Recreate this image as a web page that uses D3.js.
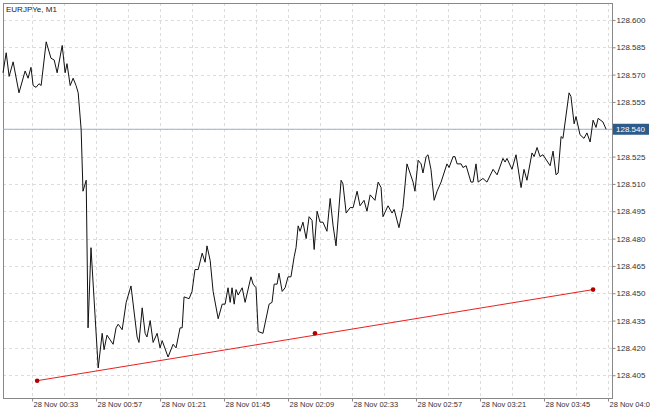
<!DOCTYPE html>
<html><head><meta charset="utf-8">
<script src="https://cdn.jsdelivr.net/npm/d3@7"></script>
<style>body{margin:0;background:#fff}svg{display:block}text{font-family:"Liberation Sans",Arial,sans-serif}</style>
</head><body><svg id="c" width="650" height="410"></svg>
<script>
// minutes after 00:00, 28 Nov
const times = [22.1,23.3,24.4,25.9,28.1,30.4,31.5,32.6,33.4,34.5,35.6,36.4,38.3,40.1,41.3,42.4,44.3,45.4,46.1,47.3,48.4,49.5,50.3,51.4,52.1,53.3,54,55.1,57.8,59.3,60,61.1,63.4,64.5,65.3,66.8,68.3,70.1,72.4,73.1,74.3,75.4,76.1,77.3,78.4,79.9,81,81.8,84,85.9,87,88.5,89.3,90,91.9,93,94.1,95.3,96.8,97.9,98.6,99.8,100.9,102.8,104.3,105.4,106.5,107.3,108,108.8,109.5,110.3,111.8,112.9,115.1,115.9,117,117.8,119.6,121.9,123,123.8,124.9,125.6,126.8,127.9,129,130.1,131.3,132,132.8,133.5,134.6,135.8,136.9,138,138.8,139.9,141,142.1,143.6,144.8,145.9,147,148.9,149.6,150.8,152.3,153.4,154.9,156,157.5,158.6,159.8,161.6,162.8,163.9,164.6,166.5,168,168.8,170.6,172.1,173.6,175.9,176.6,177.8,178.9,179.6,180.8,181.5,182.6,183.8,184.9,186.4,188.6,189.4,190.9,191.6,192.4,193.9,194.6,195.8,197.6,198.4,199.5,200.3,202.1,203.6,205.9,207.4,209.6,210.4,211.1,213,214.5,216.4,217.5,218.6,220.5,221.3,222.4,223.5,224.6,227.3,228.4,229.5,230.3,231.4,232.1,234.4,235.1,236.3,237,238.5,240,241.1,242.3,243.4,244.5,245.3,247.1,248.3];
const prices = [128.571,128.582,128.569,128.577,128.560,128.572,128.568,128.574,128.564,128.563,128.565,128.564,128.588,128.579,128.578,128.571,128.586,128.571,128.576,128.564,128.568,128.564,128.560,128.540,128.506,128.512,128.431,128.475,128.409,128.428,128.419,128.427,128.422,128.431,128.433,128.430,128.445,128.454,128.426,128.423,128.442,128.428,128.426,128.435,128.423,128.428,128.420,128.424,128.415,128.422,128.420,128.431,128.431,128.448,128.447,128.451,128.463,128.463,128.472,128.467,128.476,128.468,128.451,128.436,128.444,128.444,128.453,128.445,128.453,128.444,128.452,128.449,128.453,128.445,128.459,128.455,128.453,128.429,128.428,128.444,128.445,128.455,128.455,128.461,128.451,128.453,128.459,128.459,128.470,128.475,128.487,128.484,128.489,128.480,128.492,128.490,128.474,128.495,128.489,128.489,128.484,128.502,128.487,128.476,128.512,128.510,128.494,128.497,128.497,128.506,128.498,128.501,128.495,128.504,128.501,128.511,128.508,128.492,128.498,128.494,128.496,128.486,128.497,128.521,128.511,128.506,128.523,128.521,128.516,128.525,128.526,128.518,128.501,128.506,128.511,128.521,128.519,128.525,128.525,128.521,128.521,128.519,128.520,128.511,128.511,128.521,128.511,128.513,128.511,128.518,128.515,128.524,128.522,128.524,128.518,128.526,128.508,128.518,128.512,128.527,128.525,128.530,128.525,128.526,128.520,128.528,128.515,128.516,128.536,128.535,128.560,128.558,128.543,128.547,128.537,128.535,128.538,128.533,128.545,128.541,128.546,128.544,128.540];
const trendTimes = [34.9,139.1,243.4];
const trendPrices = [128.402,128.428,128.452];
const yTicks = [128.405,128.420,128.435,128.450,128.465,128.480,128.495,128.510,128.525,128.540,128.555,128.570,128.585,128.600];
const xLabelTimes = [33,57,81,105,129,153,177,201,225,249];
const lastPrice = 128.540;
const title = "EURJPYe, M1";

const svg = d3.select("#c");
const L=3,R=612,T=3,B=398;
const x = d3.scaleLinear().domain([22.1,250.5]).range([L,R]);
const y = d3.scaleLinear().domain([128.3925,128.6093]).range([B,T]);
const fmtT = m => "28 Nov " + String(Math.floor(m/60)).padStart(2,"0")+":"+String(Math.round(m%60)).padStart(2,"0");

const g = svg.append("g");
const vGrid = d3.range(33, 250, 12);
g.selectAll(".vg").data(vGrid).join("line").attr("x1",d=>Math.round(x(d))+0.5).attr("x2",d=>Math.round(x(d))+0.5).attr("y1",T).attr("y2",B)
 .attr("stroke","#dcdcdc").attr("stroke-dasharray","3,3").attr("stroke-width",1);
g.selectAll(".hg").data(yTicks).join("line").attr("x1",L).attr("x2",R).attr("y1",d=>Math.round(y(d))+0.5).attr("y2",d=>Math.round(y(d))+0.5)
 .attr("stroke","#dcdcdc").attr("stroke-dasharray","3,3").attr("stroke-width",1);
svg.append("rect").attr("x",L+0.5).attr("y",T+0.5).attr("width",R-L).attr("height",B-T).attr("fill","none").attr("stroke","#888");
const ya = d3.axisRight(y).tickValues(yTicks).tickFormat(d3.format(".3f")).tickSize(3);
const yg = svg.append("g").attr("transform",`translate(${R+0.5},0)`).call(ya);
yg.select(".domain").remove();
yg.selectAll("line").attr("stroke","#888");
yg.selectAll("text").attr("font-size",8).attr("fill","#333").attr("x",4);
const xa = d3.axisBottom(x).tickValues(xLabelTimes).tickFormat(fmtT).tickSize(3);
const xg = svg.append("g").attr("transform",`translate(0,${B+0.5})`).call(xa);
xg.select(".domain").remove();
xg.selectAll("line").attr("stroke","#888");
xg.selectAll("text").attr("font-size",7.5).attr("fill","#333").attr("text-anchor","start").attr("x",1).attr("y",3).attr("dy","0.71em");
svg.append("line").attr("x1",L).attr("x2",R).attr("y1",y(lastPrice)).attr("y2",y(lastPrice)).attr("stroke","#9bb3c6").attr("stroke-width",1);
svg.append("rect").attr("x",R+1).attr("y",y(lastPrice)-5.5).attr("width",36).attr("height",11).attr("fill","#2d5b8a");
svg.append("text").attr("x",R+4).attr("y",y(lastPrice)+3).attr("font-size",8).attr("fill","#fff").text(d3.format(".3f")(lastPrice));
const data = times.map((t,i)=>[t,prices[i]]);
svg.append("path").datum(data).attr("fill","none").attr("stroke","#111").attr("stroke-width",1)
 .attr("d",d3.line().x(d=>x(d[0])).y(d=>y(d[1])));
const tr = trendTimes.map((t,i)=>[t,trendPrices[i]]);
svg.append("path").datum([tr[0],tr[2]]).attr("fill","none").attr("stroke","#e8201f").attr("stroke-width",1)
 .attr("d",d3.line().x(d=>x(d[0])).y(d=>y(d[1])));
svg.selectAll(".dot").data(tr).join("circle").attr("cx",d=>x(d[0])).attr("cy",d=>y(d[1])).attr("r",2.3).attr("fill","#b00000");
svg.append("text").attr("x",6).attr("y",12).attr("font-size",8).attr("fill","#222").text(title);
</script></body></html>
